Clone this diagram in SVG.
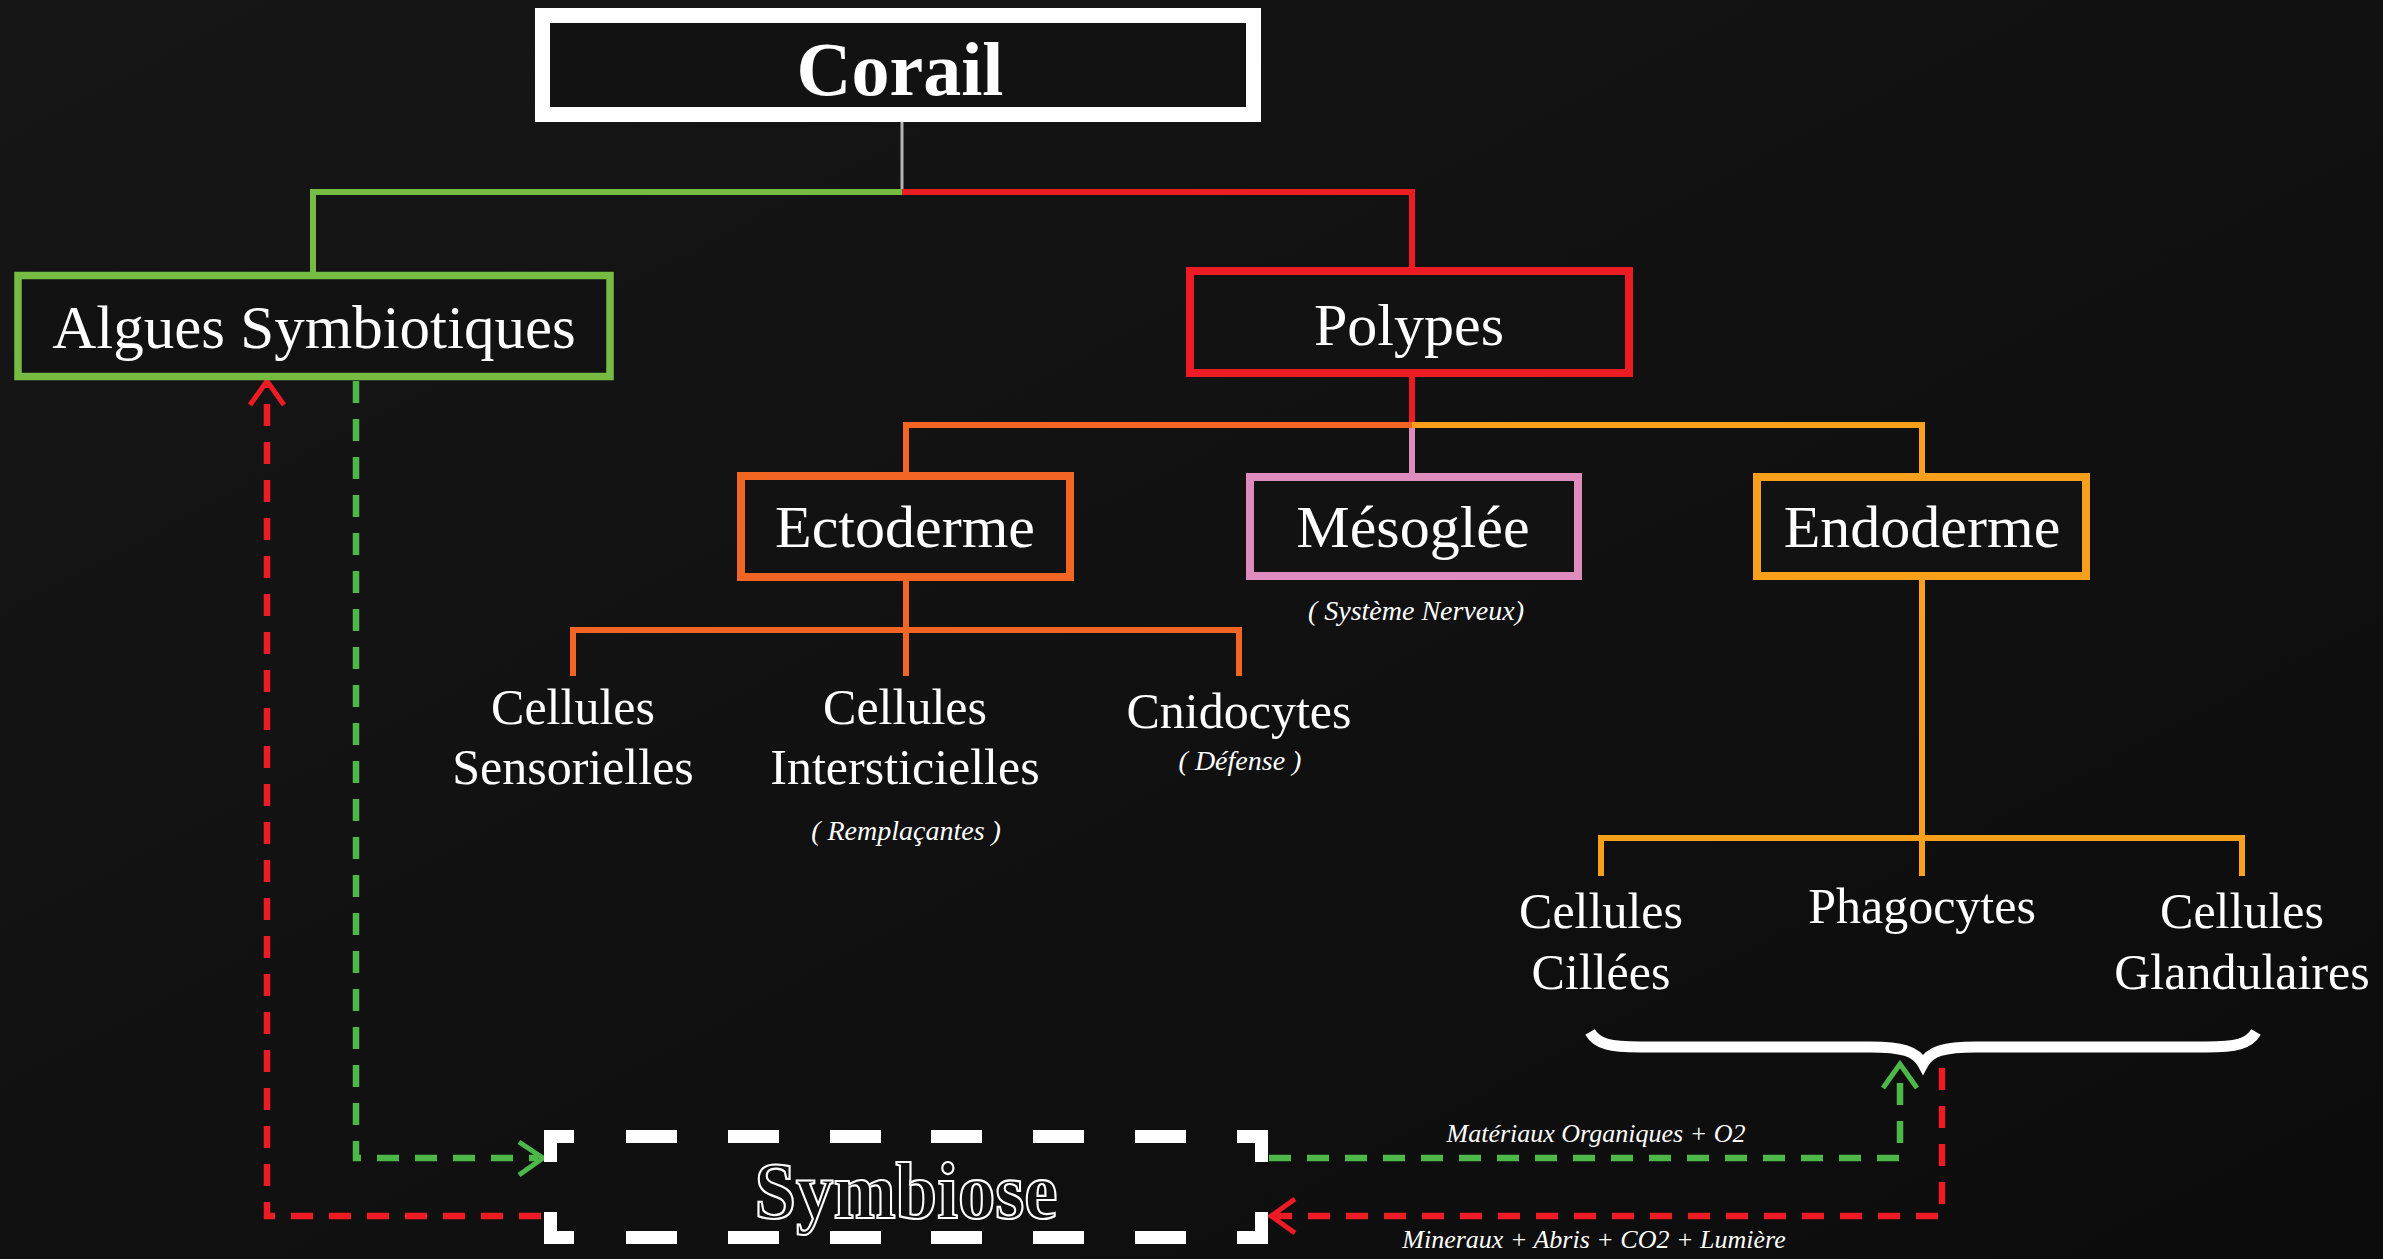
<svg xmlns="http://www.w3.org/2000/svg" width="2383" height="1259" viewBox="0 0 2383 1259">
<defs>
<linearGradient id="bg" x1="0" y1="0" x2="1" y2="1">
<stop offset="0" stop-color="#161616"/>
<stop offset="1" stop-color="#0c0c0c"/>
</linearGradient>
<style>
.t{font-family:"Liberation Serif","DejaVu Serif",serif;fill:#fff;text-anchor:middle}
.bx{font-size:60px}
.cl{font-size:50px}
.it{font-size:28px;font-style:italic}
.box{fill:#121212}
.c{fill:none;stroke-width:6;stroke-linejoin:miter}
.d{fill:none;stroke-width:6.5;stroke-dasharray:22 16}
.ah{fill:none;stroke-width:5;stroke-linejoin:miter}
.g{stroke:#76bc43}.gd{stroke:#4cb848}.r{stroke:#ed1c24}.o{stroke:#f26522}.y{stroke:#f8a01c}.p{stroke:#de8bbd}
</style>
</defs>
<rect width="2383" height="1259" fill="url(#bg)"/>

<g id="connectors">
<line x1="902" y1="122" x2="902" y2="189" stroke="#b5b5b5" stroke-width="3"/>
<polyline class="c g" stroke-width="7" points="902,192 313,192 313,272"/>
<polyline class="c r" stroke-width="7" points="902,192 1412,192 1412,268"/>
<line class="c r" x1="1412" y1="376" x2="1412" y2="424"/>
<polyline class="c o" points="1412,425 906,425 906,473"/>
<polyline class="c y" points="1412,425 1922,425 1922,473"/>
<line class="c p" x1="1412" y1="428" x2="1412" y2="474"/>
<line class="c o" x1="906" y1="580" x2="906" y2="676"/>
<polyline class="c o" points="573,676 573,630 1239,630 1239,676"/>
<line class="c y" x1="1922" y1="580" x2="1922" y2="876"/>
<polyline class="c y" points="1601,876 1601,838 2242,838 2242,876"/>
<!-- dashed symbiosis arrows -->
<path class="d gd" d="M356,381 V1158 H538"/>
<polyline class="ah gd" points="519,1142 543,1158 519,1175"/>
<path class="d r" d="M541,1216 H267 V386"/>
<polyline class="ah r" points="250,405 267,381 284,405"/>
<path class="d gd" d="M1269,1158 H1900 V1068"/>
<polyline class="ah gd" points="1883,1088 1900,1064 1917,1088"/>
<path class="d r" d="M1942,1068 V1216 H1276"/>
<polyline class="ah r" points="1295,1199 1271,1216 1295,1233"/>
<!-- brace -->
<path d="M1590,1032 C1597,1044 1610,1047 1640,1047 L1870,1047 C1902,1047 1916,1051 1923,1064 C1930,1051 1944,1047 1976,1047 L2206,1047 C2236,1047 2249,1044 2256,1032" fill="none" stroke="#fff" stroke-width="11"/>
</g>

<g id="corail">
<rect class="box" x="542.5" y="15.5" width="711" height="99" stroke="#fff" stroke-width="15"/>
<text class="t" x="900" y="95" font-size="76" font-weight="bold">Corail</text>
</g>
<g id="algues">
<rect class="box" x="18" y="275.5" width="592" height="101" stroke="#76bc43" stroke-width="7.5"/>
<text class="t" x="314" y="348" font-size="61">Algues Symbiotiques</text>
</g>
<g id="polypes">
<rect class="box" x="1190" y="271" width="439" height="102" stroke="#ed1c24" stroke-width="8"/>
<text class="t bx" x="1409" y="345">Polypes</text>
</g>
<g id="ectoderme">
<rect class="box" x="741" y="476" width="329" height="101" stroke="#f26522" stroke-width="8"/>
<text class="t bx" x="905" y="547">Ectoderme</text>
</g>
<g id="mesoglee">
<rect class="box" x="1250" y="477" width="328" height="99" stroke="#de8bbd" stroke-width="8"/>
<text class="t bx" x="1413" y="547">Mésoglée</text>
<text class="t it" x="1416" y="620">( Système Nerveux)</text>
</g>
<g id="endoderme">
<rect class="box" x="1757" y="477" width="329" height="99" stroke="#f8a01c" stroke-width="8"/>
<text class="t bx" x="1922" y="547">Endoderme</text>
</g>
<g id="sensorielles">
<text class="t cl" x="573" y="724">Cellules</text>
<text class="t cl" x="573" y="784">Sensorielles</text>
</g>
<g id="interstitielles">
<text class="t cl" x="905" y="724">Cellules</text>
<text class="t cl" x="905" y="784">Intersticielles</text>
<text class="t it" x="906" y="840">( Remplaçantes )</text>
</g>
<g id="cnidocytes">
<text class="t cl" x="1239" y="728">Cnidocytes</text>
<text class="t it" x="1240" y="770">( Défense )</text>
</g>
<g id="cillees">
<text class="t cl" x="1601" y="928">Cellules</text>
<text class="t cl" x="1601" y="989">Cillées</text>
</g>
<g id="phagocytes">
<text class="t cl" x="1922" y="923">Phagocytes</text>
</g>
<g id="glandulaires">
<text class="t cl" x="2242" y="928">Cellules</text>
<text class="t cl" x="2242" y="989">Glandulaires</text>
</g>
<g id="symbiose">
<path d="M574,1136.5 H550.5 V1162 M1237,1136.5 H1261.5 V1162 M574,1237.5 H550.5 V1212 M1237,1237.5 H1261.5 V1212 M626,1136.5 h51 M728,1136.5 h51 M830,1136.5 h51 M931,1136.5 h51 M1033,1136.5 h51 M1135,1136.5 h51 M626,1237.5 h51 M728,1237.5 h51 M830,1237.5 h51 M931,1237.5 h51 M1033,1237.5 h51 M1135,1237.5 h51" fill="none" stroke="#fff" stroke-width="13" stroke-linejoin="miter"/>
<text class="t" x="906" y="1218" font-size="80" font-weight="bold" style="fill:#111;stroke:#fff;stroke-width:2.2" textLength="303" lengthAdjust="spacingAndGlyphs">Symbiose</text>
</g>
<g id="labels">
<text class="t it" x="1596" y="1142" font-size="26" style="font-size:26px">Matériaux Organiques + O2</text>
<text class="t it" x="1594" y="1248" style="font-size:26px">Mineraux + Abris + CO2 + Lumière</text>
</g>
</svg>
